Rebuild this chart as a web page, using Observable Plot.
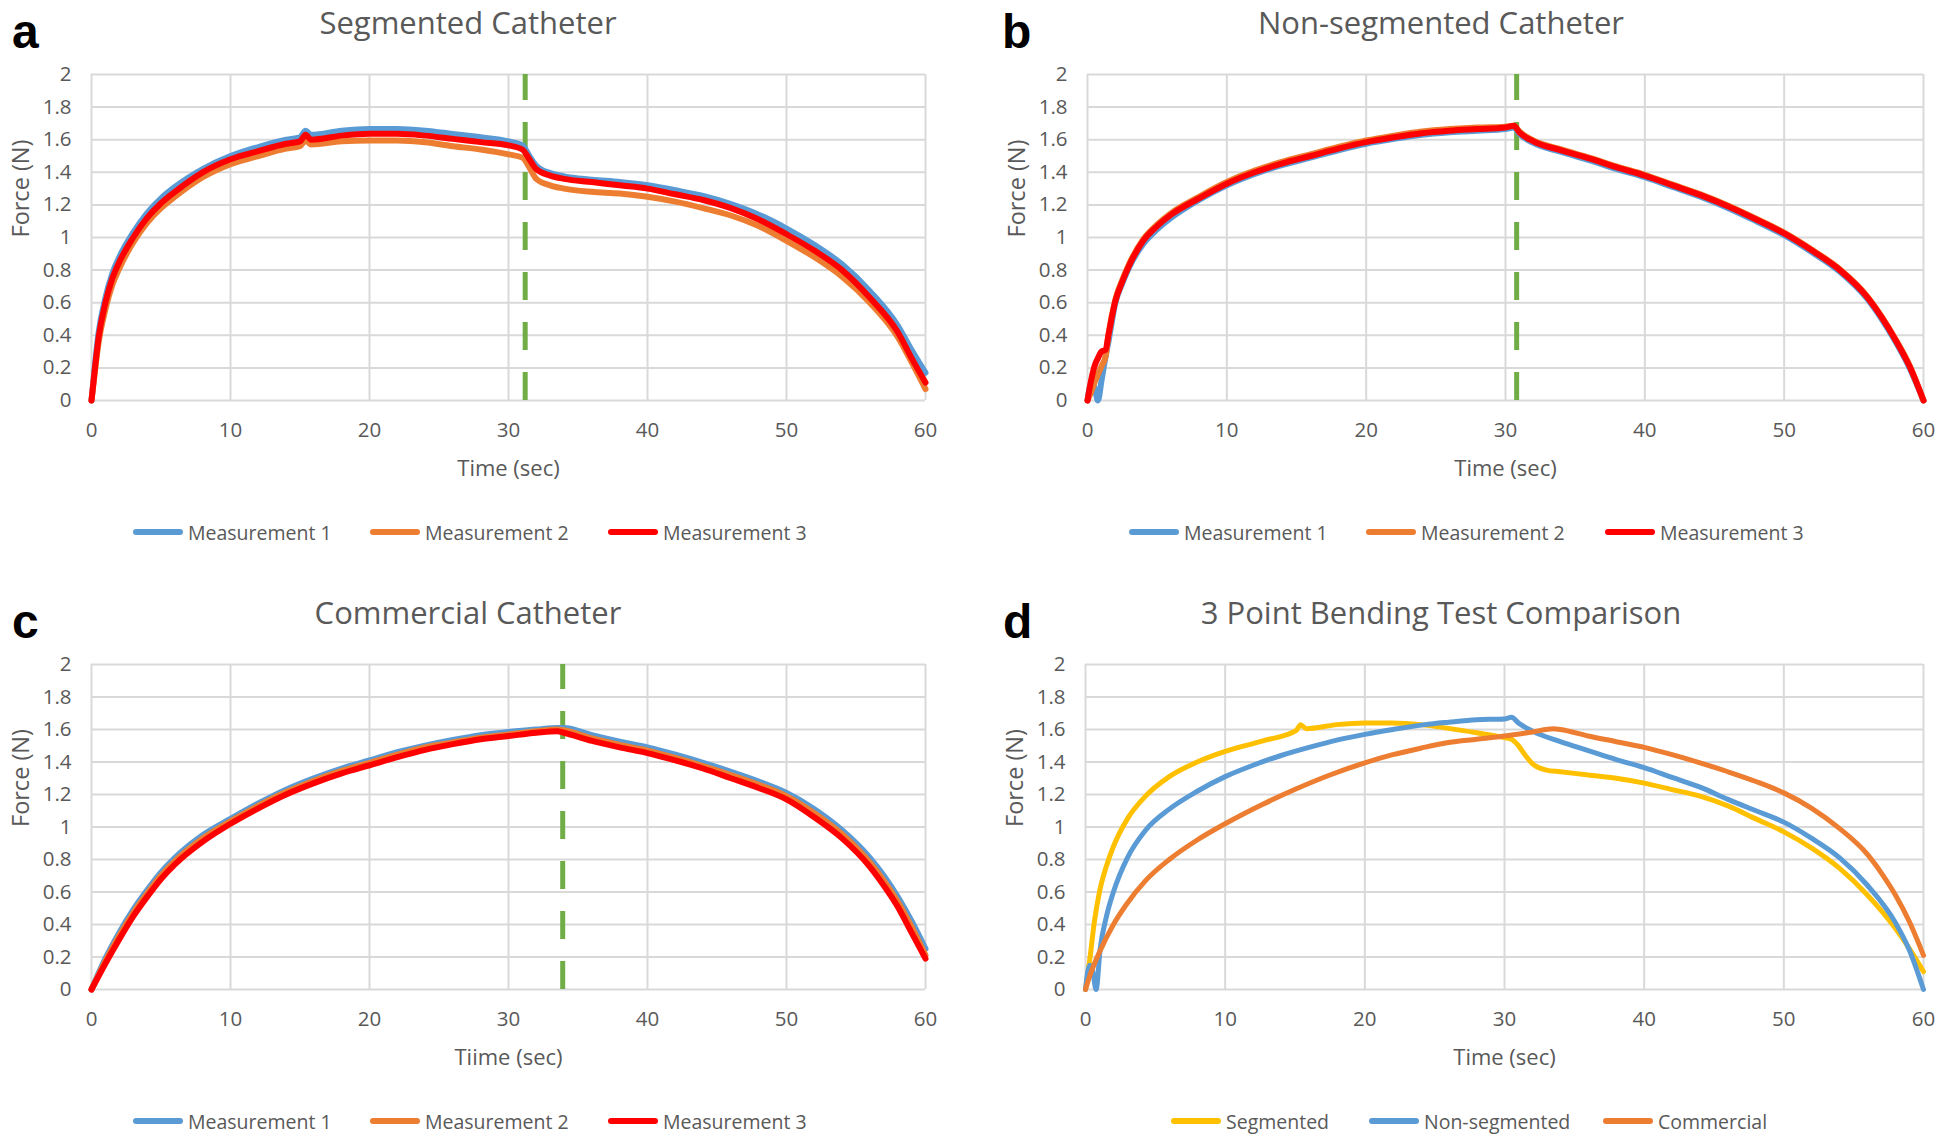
<!DOCTYPE html>
<html>
<head>
<meta charset="utf-8">
<script src="https://cdn.jsdelivr.net/npm/d3@7"></script>
<script src="https://cdn.jsdelivr.net/npm/@observablehq/plot@0.6"></script>
<style>
  html, body { margin: 0; padding: 0; background: #fff; }
  #root { position: relative; width: 1946px; height: 1136px; overflow: hidden; font-family: "Open Sans", sans-serif; }
  .panel { position: absolute; width: 973px; height: 568px; }
  .panel svg { position: absolute; left: 0; top: 0; }
  .letter { position: absolute; font-family: "Liberation Sans", Arial, sans-serif; font-weight: bold; font-size: 48px; line-height: 1; color: #000; }
  .title { position: absolute; font-size: 31px; line-height: 1; color: #595959; white-space: nowrap; transform: translateX(-50%); }
  .item { position: absolute; height: 30px; display: flex; align-items: center; font-size: 19.5px; color: #595959; white-space: nowrap; }
  .sw { display: inline-block; width: 50px; height: 6px; border-radius: 3px; margin-right: 5px; }
</style>
</head>
<body>
<div id="root"></div>
<script>
// ---------- shared axis ticks ----------
const xTicks = [0, 10, 20, 30, 40, 50, 60];
const yTicks = [0, 0.2, 0.4, 0.6, 0.8, 1, 1.2, 1.4, 1.6, 1.8, 2];

// ---------- (a) Segmented Catheter ----------
const segTime = [0, 0.25, 0.5, 1, 1.5, 2, 3, 4, 5, 6, 8, 10, 12, 14, 15, 15.4, 15.8, 18, 20, 22, 24, 26, 28, 30, 31, 31.5, 32, 33, 34, 36, 38, 40, 42, 44, 46, 48, 50, 52, 54, 56, 58, 59, 60];
const segM1 = [0, 0.22, 0.41, 0.63, 0.78, 0.88, 1.03, 1.15, 1.24, 1.31, 1.42, 1.50, 1.555, 1.60, 1.615, 1.655, 1.63, 1.655, 1.665, 1.665, 1.655, 1.635, 1.615, 1.59, 1.565, 1.50, 1.44, 1.395, 1.375, 1.355, 1.34, 1.32, 1.29, 1.255, 1.205, 1.14, 1.055, 0.955, 0.835, 0.67, 0.46, 0.31, 0.17];
const segM2 = [0, 0.18, 0.35, 0.56, 0.71, 0.81, 0.97, 1.09, 1.18, 1.25, 1.37, 1.45, 1.50, 1.545, 1.56, 1.595, 1.57, 1.59, 1.595, 1.595, 1.585, 1.56, 1.54, 1.51, 1.49, 1.43, 1.36, 1.32, 1.30, 1.28, 1.27, 1.25, 1.22, 1.18, 1.135, 1.07, 0.98, 0.88, 0.76, 0.60, 0.39, 0.235, 0.07];
const segM3 = [0, 0.2, 0.38, 0.6, 0.75, 0.85, 1.0, 1.12, 1.21, 1.28, 1.40, 1.48, 1.53, 1.575, 1.59, 1.63, 1.60, 1.625, 1.636, 1.636, 1.625, 1.605, 1.585, 1.565, 1.54, 1.48, 1.42, 1.38, 1.36, 1.34, 1.32, 1.30, 1.265, 1.23, 1.18, 1.11, 1.02, 0.92, 0.80, 0.63, 0.42, 0.26, 0.11];
const segMarker = 31.2;

// ---------- (b) Non-segmented Catheter ----------
const nonTime = [0, 0.25, 0.5, 0.75, 1, 1.3, 1.5, 2, 2.5, 3, 4, 5, 6, 8, 10, 12, 14, 16, 18, 20, 22, 24, 26, 28, 30, 30.6, 31, 32, 34, 36, 38, 40, 42, 44, 46, 48, 50, 52, 54, 56, 57, 58, 59, 60];
const nonM1 = [0, 0.10, 0.08, 0.0, 0.12, 0.27, 0.36, 0.60, 0.72, 0.82, 0.96, 1.05, 1.12, 1.23, 1.32, 1.39, 1.445, 1.49, 1.535, 1.575, 1.605, 1.63, 1.645, 1.655, 1.665, 1.675, 1.635, 1.58, 1.525, 1.475, 1.42, 1.37, 1.31, 1.25, 1.18, 1.10, 1.015, 0.91, 0.79, 0.62, 0.50, 0.36, 0.20, 0];
const nonM2 = [0, 0.05, 0.11, 0.16, 0.21, 0.27, 0.40, 0.62, 0.74, 0.84, 0.99, 1.08, 1.15, 1.25, 1.34, 1.41, 1.465, 1.51, 1.555, 1.595, 1.625, 1.65, 1.665, 1.675, 1.68, 1.685, 1.65, 1.595, 1.54, 1.49, 1.435, 1.385, 1.325, 1.265, 1.195, 1.115, 1.03, 0.925, 0.805, 0.635, 0.515, 0.375, 0.215, 0];
const nonM3 = [0, 0.12, 0.21, 0.26, 0.30, 0.31, 0.40, 0.61, 0.73, 0.83, 0.98, 1.07, 1.14, 1.24, 1.33, 1.40, 1.455, 1.50, 1.545, 1.585, 1.615, 1.64, 1.655, 1.665, 1.675, 1.685, 1.645, 1.59, 1.535, 1.485, 1.43, 1.38, 1.32, 1.26, 1.19, 1.11, 1.025, 0.92, 0.80, 0.63, 0.51, 0.37, 0.21, 0];
const nonMarker = 30.8;

// ---------- (c) Commercial Catheter ----------
const comTime = [0, 1, 2, 3, 4, 5, 6, 8, 10, 12, 14, 16, 18, 20, 22, 24, 26, 28, 30, 32, 33.5, 34, 36, 38, 40, 42, 44, 46, 48, 50, 52, 54, 56, 57, 58, 59, 60];
const comM1 = [0, 0.19, 0.35, 0.49, 0.61, 0.72, 0.81, 0.95, 1.05, 1.145, 1.23, 1.30, 1.36, 1.41, 1.46, 1.50, 1.535, 1.565, 1.585, 1.60, 1.61, 1.61, 1.565, 1.525, 1.49, 1.445, 1.395, 1.34, 1.28, 1.21, 1.11, 0.98, 0.81, 0.70, 0.57, 0.42, 0.25];
const comM2 = [0, 0.175, 0.33, 0.47, 0.59, 0.70, 0.79, 0.93, 1.035, 1.13, 1.215, 1.285, 1.345, 1.395, 1.445, 1.49, 1.52, 1.55, 1.57, 1.59, 1.60, 1.595, 1.545, 1.505, 1.47, 1.425, 1.375, 1.32, 1.26, 1.19, 1.085, 0.955, 0.78, 0.67, 0.54, 0.385, 0.21];
const comM3 = [0, 0.16, 0.31, 0.45, 0.57, 0.68, 0.77, 0.91, 1.02, 1.115, 1.20, 1.27, 1.33, 1.38, 1.43, 1.475, 1.51, 1.54, 1.56, 1.58, 1.59, 1.58, 1.53, 1.49, 1.455, 1.41, 1.36, 1.30, 1.24, 1.17, 1.06, 0.93, 0.755, 0.64, 0.51, 0.35, 0.19];
const comMarker = 33.9;

// ---------- (d) 3 Point Bending Test Comparison ----------
const cmpSegTime = [0, 0.3, 0.64, 1, 1.5, 2, 3, 4.3, 6, 8, 10, 12.7, 15.1, 15.4, 15.8, 18, 20, 22, 24, 26, 28, 30, 30.5, 31, 31.5, 32, 33, 34, 36, 38, 40, 42, 44, 46, 48, 50, 52, 54, 56, 58, 59, 60];
const cmpSeg = [0, 0.18, 0.42, 0.6, 0.76, 0.88, 1.05, 1.19, 1.31, 1.40, 1.465, 1.53, 1.595, 1.63, 1.605, 1.63, 1.64, 1.64, 1.63, 1.607, 1.58, 1.55, 1.54, 1.50, 1.44, 1.39, 1.35, 1.34, 1.32, 1.30, 1.27, 1.23, 1.19, 1.13, 1.05, 0.97, 0.87, 0.745, 0.58, 0.375, 0.25, 0.11];
const cmpNonTime = [0, 0.3, 0.5, 0.76, 1.05, 1.5, 2, 3, 4.3, 6, 8, 10, 12, 14, 16, 18, 20, 22, 24.3, 26, 28, 30, 30.5, 31, 32, 34, 36, 38, 40, 42, 44, 46, 48, 50, 52, 54, 56, 58, 59, 60];
const cmpNon = [0, 0.15, 0.12, 0.0, 0.25, 0.45, 0.6, 0.81, 0.98, 1.11, 1.22, 1.31, 1.38, 1.44, 1.49, 1.535, 1.57, 1.60, 1.63, 1.645, 1.66, 1.665, 1.675, 1.64, 1.59, 1.525, 1.47, 1.415, 1.365, 1.305, 1.245, 1.17, 1.10, 1.03, 0.93, 0.81, 0.64, 0.41, 0.24, 0.0];
const cmpComTime = [0, 0.29, 1, 2, 2.9, 4.3, 6, 8, 10, 12.7, 15.1, 17.5, 20, 22, 24, 26, 28, 30, 32, 33.5, 34, 36, 38, 40, 42, 44, 46, 48, 50, 52, 54, 56, 57, 58, 59, 60];
const cmpCom = [0, 0.08, 0.23, 0.40, 0.52, 0.67, 0.80, 0.92, 1.02, 1.14, 1.235, 1.32, 1.395, 1.445, 1.485, 1.52, 1.54, 1.56, 1.585, 1.605, 1.60, 1.56, 1.525, 1.49, 1.445, 1.395, 1.34, 1.28, 1.21, 1.115, 0.99, 0.83, 0.715, 0.58, 0.415, 0.21];

// ---------- labels ----------
const panelLetters = ["a", "b", "c", "d"];
const panelTitles = ["Segmented Catheter", "Non-segmented Catheter", "Commercial Catheter", "3 Point Bending Test Comparison"];
const xLabels = ["Time (sec)", "Time (sec)", "Tiime (sec)", "Time (sec)"];
const yLabel = "Force (N)";
const measurementNames = ["Measurement 1", "Measurement 2", "Measurement 3"];
const comparisonNames = ["Segmented", "Non-segmented", "Commercial"];

// ---------- styling ----------
const C_BLUE = "#5B9BD5", C_ORANGE = "#ED7D31", C_RED = "#FF0000", C_YELLOW = "#FFC000", C_GREEN = "#70AD47";
const GRID = "#d9d9d9";

const root = document.getElementById("root");

function buildPanel(cfg) {
  const panel = document.createElement("div");
  panel.className = "panel";
  panel.style.left = cfg.left + "px";
  panel.style.top = cfg.top + "px";
  root.appendChild(panel);

  const W = 973, H = 520;
  const marks = [
    Plot.gridX(xTicks, {stroke: GRID, strokeOpacity: 1, strokeWidth: 2}),
    Plot.gridY(yTicks, {stroke: GRID, strokeOpacity: 1, strokeWidth: 2}),
    Plot.axisX(xTicks, {tickSize: 0, tickPadding: 22, label: null}),
    Plot.axisY(yTicks, {tickSize: 0, tickPadding: 20, label: null, tickFormat: d => String(+d.toFixed(1))}),
    Plot.text([cfg.xLabel], {text: d => d, frameAnchor: "bottom", dy: 75, fontSize: 22, fill: "#595959"}),
    Plot.text([yLabel], {text: d => d, frameAnchor: "left", dx: -70, rotate: -90, fontSize: 23.5, fill: "#595959"})
  ];
  if (cfg.marker != null) {
    marks.push(Plot.ruleX([cfg.marker], {y1: 0, y2: 2, stroke: C_GREEN, strokeWidth: 5, strokeDasharray: "28 22"}));
  }
  for (const s of cfg.series) {
    marks.push(Plot.line(s.t, {x: s.t, y: s.v, stroke: s.color, strokeWidth: s.width, curve: "monotone-x"}));
  }
  const chart = Plot.plot({
    width: W,
    height: H,
    marginLeft: cfg.mL,
    marginRight: W - cfg.xRight,
    marginTop: cfg.yTop,
    marginBottom: H - cfg.yBottom,
    style: {fontFamily: "'Open Sans', sans-serif", fontSize: "20.5px", color: "#595959", background: "transparent", overflow: "visible"},
    x: {domain: [0, 60], label: null},
    y: {domain: [0, 2], label: null},
    marks
  });
  panel.appendChild(chart);

  const letter = document.createElement("div");
  letter.className = "letter";
  letter.textContent = cfg.letter;
  letter.style.left = cfg.letterX + "px";
  letter.style.top = cfg.letterY + "px";
  panel.appendChild(letter);

  const title = document.createElement("div");
  title.className = "title";
  title.textContent = cfg.title;
  title.style.left = "468px";
  title.style.top = cfg.titleY + "px";
  panel.appendChild(title);

  cfg.legend.forEach((it) => {
    const item = document.createElement("div");
    item.className = "item";
    item.style.left = it.x + "px";
    item.style.top = (cfg.legendY - 15) + "px";
    const sw = document.createElement("span");
    sw.className = "sw";
    sw.style.background = it.color;
    item.appendChild(sw);
    item.appendChild(document.createTextNode(it.name));
    panel.appendChild(item);
  });
}

buildPanel({
  left: 0, top: 0, mL: 91, xRight: 925, yTop: 74, yBottom: 400,
  letter: panelLetters[0], letterX: 12, letterY: 8, title: panelTitles[0], titleY: 7,
  xLabel: xLabels[0], marker: segMarker,
  series: [
    {t: segTime, v: segM1, color: C_BLUE, width: 6},
    {t: segTime, v: segM2, color: C_ORANGE, width: 6},
    {t: segTime, v: segM3, color: C_RED, width: 6}
  ],
  legendY: 532,
  legend: [
    {x: 133, color: C_BLUE, name: measurementNames[0]},
    {x: 370, color: C_ORANGE, name: measurementNames[1]},
    {x: 608, color: C_RED, name: measurementNames[2]}
  ]
});

buildPanel({
  left: 973, top: 0, mL: 114, xRight: 950, yTop: 74, yBottom: 400,
  letter: panelLetters[1], letterX: 29, letterY: 8, title: panelTitles[1], titleY: 7,
  xLabel: xLabels[1], marker: nonMarker,
  series: [
    {t: nonTime, v: nonM1, color: C_BLUE, width: 6},
    {t: nonTime, v: nonM2, color: C_ORANGE, width: 6},
    {t: nonTime, v: nonM3, color: C_RED, width: 6}
  ],
  legendY: 532,
  legend: [
    {x: 156, color: C_BLUE, name: measurementNames[0]},
    {x: 393, color: C_ORANGE, name: measurementNames[1]},
    {x: 632, color: C_RED, name: measurementNames[2]}
  ]
});

buildPanel({
  left: 0, top: 568, mL: 91, xRight: 925, yTop: 96, yBottom: 421,
  letter: panelLetters[2], letterX: 12, letterY: 30, title: panelTitles[2], titleY: 29,
  xLabel: xLabels[2], marker: comMarker,
  series: [
    {t: comTime, v: comM1, color: C_BLUE, width: 6},
    {t: comTime, v: comM2, color: C_ORANGE, width: 6},
    {t: comTime, v: comM3, color: C_RED, width: 6}
  ],
  legendY: 553,
  legend: [
    {x: 133, color: C_BLUE, name: measurementNames[0]},
    {x: 370, color: C_ORANGE, name: measurementNames[1]},
    {x: 608, color: C_RED, name: measurementNames[2]}
  ]
});

buildPanel({
  left: 973, top: 568, mL: 112, xRight: 950, yTop: 96, yBottom: 421,
  letter: panelLetters[3], letterX: 30, letterY: 30, title: panelTitles[3], titleY: 29,
  xLabel: xLabels[3], marker: null,
  series: [
    {t: cmpSegTime, v: cmpSeg, color: C_YELLOW, width: 5},
    {t: cmpNonTime, v: cmpNon, color: C_BLUE, width: 5},
    {t: cmpComTime, v: cmpCom, color: C_ORANGE, width: 5}
  ],
  legendY: 553,
  legend: [
    {x: 198, color: C_YELLOW, name: comparisonNames[0]},
    {x: 396, color: C_BLUE, name: comparisonNames[1]},
    {x: 630, color: C_ORANGE, name: comparisonNames[2]}
  ]
});
</script>
</body>
</html>
